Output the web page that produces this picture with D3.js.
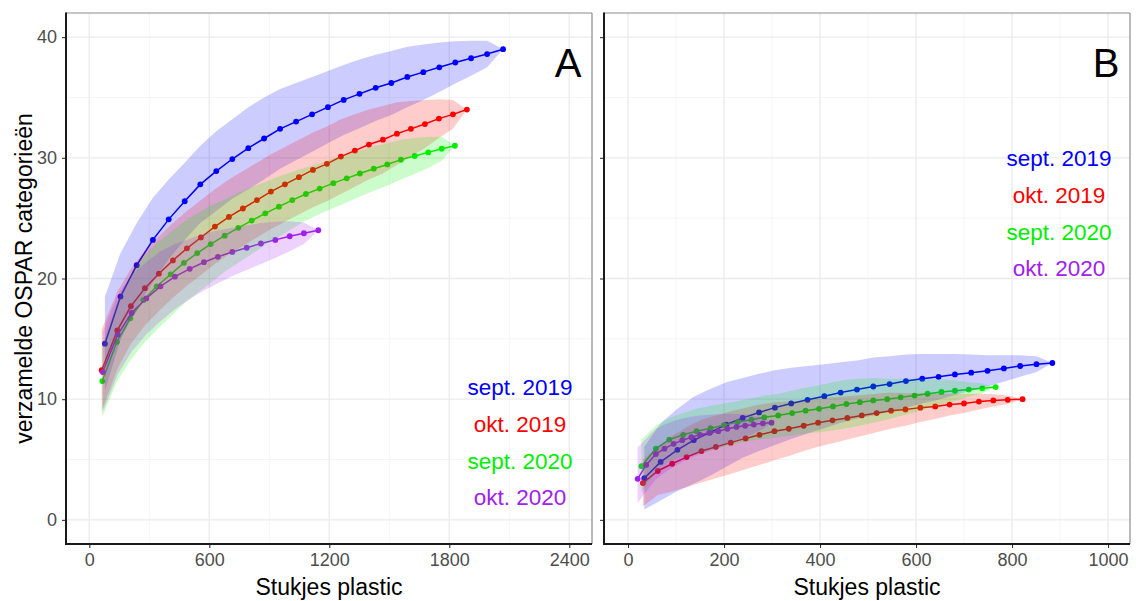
<!DOCTYPE html>
<html>
<head>
<meta charset="utf-8">
<script src="https://cdn.jsdelivr.net/npm/d3@7"></script>
<style>
  html, body { margin: 0; padding: 0; background: #ffffff; }
  svg { display: block; }
  text { font-family: "Liberation Sans", Arial, sans-serif; }
</style>
</head>
<body>
<svg id="chart" width="1136" height="601"></svg>
<script>
// ---------------- DATA ----------------
// Each row: [stukjes plastic, estimated categories, lower CI, upper CI]
const seriesNames = ["sept. 2019", "okt. 2019", "sept. 2020", "okt. 2020"];
const seriesColors = ["#0000FF", "#FF0000", "#00EE00", "#A020F0"];

const A_sept2019 = [
  [78,14.6,10.7,18.5],[156,18.5,14.9,22.1],[237,21.1,17.6,24.6],[318,23.2,19.7,26.7],[397,24.9,21.6,28.2],
  [477,26.4,23.2,29.6],[555,27.8,24.6,31.0],[635,28.9,25.6,32.2],[715,29.9,26.6,33.2],[795,30.8,27.4,34.2],
  [874,31.6,28.2,35.0],[954,32.4,29.1,35.7],[1034,33.0,29.8,36.2],[1114,33.6,30.5,36.7],[1193,34.2,31.2,37.2],
  [1272,34.8,31.9,37.7],[1351,35.3,32.45,38.15],[1432,35.8,33.05,38.55],[1510,36.2,33.55,38.85],[1590,36.7,34.2,39.2],
  [1670,37.1,34.8,39.4],[1750,37.5,35.45,39.55],[1830,37.9,36.15,39.65],[1909,38.25,36.8,39.7],[1989,38.6,37.5,39.7],
  [2069,39.0,39.0,39.0]
];
const A_okt2019 = [
  [62,12.4,9.0,15.8],[140,15.7,12.5,18.9],[208,17.7,14.6,20.8],[278,19.2,16.1,22.3],[348,20.4,17.3,23.5],
  [418,21.5,18.4,24.6],[488,22.5,19.4,25.6],[558,23.4,20.3,26.5],[628,24.3,21.2,27.4],[698,25.1,22.0,28.2],
  [768,25.8,22.7,28.9],[838,26.5,23.4,29.6],[908,27.2,24.1,30.3],[978,27.8,24.7,30.9],[1048,28.4,25.3,31.5],
  [1118,29.0,25.9,32.1],[1188,29.5,26.4,32.6],[1258,30.1,27.0,33.2],[1328,30.6,27.6,33.6],[1398,31.1,28.2,34.0],
  [1468,31.5,28.7,34.3],[1538,32.0,29.4,34.6],[1608,32.4,30.1,34.7],[1678,32.8,30.8,34.8],[1748,33.25,31.65,34.85],
  [1818,33.6,32.4,34.8],[1888,34.0,34.0,34.0]
];
const A_sept2020 = [
  [65,11.5,8.5,14.5],[138,14.75,11.45,18.05],[205,16.7,13.2,20.2],[270,18.2,14.6,21.8],[337,19.35,15.75,22.95],
  [407,20.35,16.85,23.85],[473,21.3,17.9,24.7],[540,22.1,18.8,25.4],[607,22.85,19.65,26.05],[677,23.55,20.55,26.55],
  [745,24.2,21.3,27.1],[812,24.8,22.0,27.6],[880,25.4,22.8,28.0],[948,25.95,23.45,28.45],[1015,26.5,24.15,28.85],
  [1083,27.0,24.8,29.2],[1152,27.45,25.35,29.55],[1220,27.9,25.85,29.95],[1287,28.3,26.3,30.3],[1353,28.7,26.8,30.6],
  [1422,29.1,27.25,30.95],[1490,29.45,27.7,31.2],[1558,29.85,28.2,31.5],[1627,30.15,28.65,31.65],[1695,30.45,29.15,31.75],
  [1762,30.75,29.75,31.75],[1828,31.0,31.0,31.0]
];
const A_okt2020 = [
  [67,12.25,8.95,15.55],[142,15.35,12.05,18.65],[212,17.15,13.95,20.35],[285,18.35,15.35,21.35],[356,19.35,16.45,22.25],
  [428,20.15,17.45,22.85],[502,20.8,18.3,23.3],[573,21.35,19.0,23.7],[643,21.8,19.6,24.0],[715,22.2,20.2,24.2],
  [787,22.55,20.7,24.4],[858,22.9,21.2,24.6],[930,23.2,21.7,24.7],[1002,23.5,22.25,24.75],[1073,23.75,22.85,24.65],
  [1145,24.0,24.0,24.0]
];

const B_sept2019 = [
  [34,3.45,0.85,6.05],[68,4.8,1.6,8.0],[103,5.8,2.4,9.2],[137,6.6,3.0,10.2],[171,7.25,3.65,10.85],
  [205,7.9,4.4,11.4],[239,8.45,5.15,11.75],[273,8.9,5.7,12.1],[306,9.3,6.2,12.4],[340,9.65,6.7,12.6],
  [374,9.95,7.15,12.75],[409,10.25,7.6,12.9],[443,10.55,8.05,13.05],[477,10.8,8.4,13.2],[511,11.05,8.65,13.45],
  [545,11.25,8.95,13.55],[579,11.5,9.3,13.7],[613,11.7,9.65,13.75],[647,11.85,9.95,13.75],[681,12.05,10.35,13.75],
  [715,12.2,10.7,13.7],[749,12.35,11.05,13.65],[783,12.55,11.45,13.65],[817,12.75,11.85,13.65],[851,12.9,12.25,13.55],
  [884,13.0,13.0,13.0]
];
const B_okt2019 = [
  [31,3.05,1.1,5.0],[62,4.05,2.05,6.05],[92,4.65,2.35,6.95],[122,5.2,2.7,7.7],[153,5.7,3.1,8.3],
  [183,6.05,3.45,8.65],[214,6.4,3.8,9.0],[245,6.75,4.2,9.3],[274,7.05,4.55,9.55],[305,7.35,4.95,9.75],
  [335,7.55,5.3,9.8],[366,7.8,5.7,9.9],[396,8.05,6.05,10.05],[426,8.25,6.35,10.15],[457,8.45,6.65,10.25],
  [487,8.65,6.95,10.35],[518,8.85,7.25,10.45],[548,9.05,7.55,10.55],[578,9.15,7.8,10.5],[609,9.3,8.1,10.5],
  [640,9.4,8.35,10.45],[670,9.55,8.65,10.45],[700,9.65,8.85,10.45],[731,9.8,9.15,10.45],[761,9.9,9.4,10.4],
  [791,9.95,9.6,10.3],[822,10.0,10.0,10.0]
];
const B_sept2020 = [
  [28,4.45,2.25,6.65],[58,5.9,4.0,7.8],[86,6.65,4.85,8.45],[115,7.05,5.25,8.85],[143,7.35,5.5,9.2],
  [172,7.6,5.75,9.45],[200,7.85,6.05,9.65],[229,8.1,6.35,9.85],[257,8.3,6.55,10.05],[284,8.5,6.7,10.3],
  [313,8.65,6.85,10.45],[342,8.85,7.0,10.7],[370,9.05,7.15,10.95],[398,9.2,7.25,11.15],[427,9.4,7.4,11.4],
  [455,9.6,7.6,11.6],[483,9.75,7.8,11.7],[511,9.9,8.05,11.75],[540,10.0,8.3,11.7],[568,10.15,8.6,11.7],
  [597,10.3,8.9,11.7],[624,10.45,9.25,11.65],[653,10.6,9.55,11.65],[681,10.7,9.85,11.55],[710,10.8,10.2,11.4],
  [738,10.9,10.5,11.3],[766,11.0,11.0,11.0]
];
const B_okt2020 = [
  [20,3.4,1.4,6.0],[38,4.55,2.35,6.75],[58,5.45,3.35,7.55],[76,5.9,3.9,7.9],[95,6.3,4.4,8.2],
  [113,6.6,4.8,8.4],[132,6.85,5.15,8.55],[150,7.05,5.45,8.65],[169,7.2,5.7,8.7],[188,7.35,5.95,8.75],
  [207,7.55,6.3,8.8],[226,7.7,6.6,8.8],[244,7.8,6.85,8.75],[262,7.9,7.15,8.65],[281,8.0,7.5,8.5],
  [299,8.05,8.05,8.05]
];

const xTicksA = [0, 600, 1200, 1800, 2400];
const xMinorA = [300, 900, 1500, 2100];
const xTicksB = [0, 200, 400, 600, 800, 1000];
const xMinorB = [100, 300, 500, 700, 900];
const yTicks = [0, 10, 20, 30, 40];
const yMinor = [5, 15, 25, 35];

const xTitle = "Stukjes plastic";
const yTitle = "verzamelde OSPAR categorieën";

// ---------------- DRAW ----------------
const svg = d3.select("#chart");
const plotTop = 13, plotBottom = 544;
const y = d3.scaleLinear().domain([-2, 42]).range([plotBottom, plotTop]);

const panels = [
  { left: 66, right: 592, domain: [-116.5, 2513.5], ticks: xTicksA, minor: xMinorA,
    data: [A_sept2019, A_okt2019, A_sept2020, A_okt2020], label: "A", labelX: 568,
    legendX: 520, legendY: [387, 424, 461, 497], yLabels: true },
  { left: 604, right: 1130, domain: [-50, 1045.8], ticks: xTicksB, minor: xMinorB,
    data: [B_sept2019, B_okt2019, B_sept2020, B_okt2020], label: "B", labelX: 1106,
    legendX: 1059, legendY: [158, 195, 232, 268], yLabels: false }
];

panels.forEach((p, pi) => {
  const x = d3.scaleLinear().domain(p.domain).range([p.left, p.right]);
  const g = svg.append("g");
  const clipId = "clip" + pi;
  svg.append("clipPath").attr("id", clipId).append("rect")
    .attr("x", p.left).attr("y", plotTop).attr("width", p.right - p.left).attr("height", plotBottom - plotTop);

  // grid
  const grid = g.append("g");
  grid.selectAll(".vminor").data(p.minor).join("line")
    .attr("x1", d => x(d)).attr("x2", d => x(d)).attr("y1", plotTop).attr("y2", plotBottom)
    .attr("stroke", "#f2f2f2").attr("stroke-width", 0.8);
  grid.selectAll(".hminor").data(yMinor).join("line")
    .attr("y1", d => y(d)).attr("y2", d => y(d)).attr("x1", p.left).attr("x2", p.right)
    .attr("stroke", "#f2f2f2").attr("stroke-width", 0.8);
  grid.selectAll(".vmajor").data(p.ticks).join("line")
    .attr("x1", d => x(d)).attr("x2", d => x(d)).attr("y1", plotTop).attr("y2", plotBottom)
    .attr("stroke", "#ebebeb").attr("stroke-width", 1.3);
  grid.selectAll(".hmajor").data(yTicks).join("line")
    .attr("y1", d => y(d)).attr("y2", d => y(d)).attr("x1", p.left).attr("x2", p.right)
    .attr("stroke", "#ebebeb").attr("stroke-width", 1.3);

  const plot = g.append("g").attr("clip-path", `url(#${clipId})`);
  const line = d3.line().x(d => x(d[0])).y(d => y(d[1]));
  const area = d3.area().x(d => x(d[0])).y0(d => y(d[2])).y1(d => y(d[3]));

  // lines and points first
  p.data.forEach((s, i) => {
    plot.append("path").datum(s).attr("d", line)
      .attr("fill", "none").attr("stroke", seriesColors[i]).attr("stroke-width", 1.5);
    plot.append("g").selectAll("circle").data(s).join("circle")
      .attr("cx", d => x(d[0])).attr("cy", d => y(d[1])).attr("r", 2.9)
      .attr("fill", seriesColors[i]);
  });
  // ribbons on top
  p.data.forEach((s, i) => {
    plot.append("path").datum(s).attr("d", area)
      .attr("fill", seriesColors[i]).attr("fill-opacity", 0.2).attr("stroke", "none");
  });

  // border (top/right grey)
  g.append("line").attr("x1", p.left).attr("x2", p.right).attr("y1", plotTop).attr("y2", plotTop)
    .attr("stroke", "#8c8c8c").attr("stroke-width", 1.2);
  g.append("line").attr("x1", p.right).attr("x2", p.right).attr("y1", plotTop).attr("y2", plotBottom)
    .attr("stroke", "#8c8c8c").attr("stroke-width", 1.2);

  // x axis
  const xAxis = d3.axisBottom(x).tickValues(p.ticks).tickSize(4).tickPadding(5).tickFormat(d3.format("d"));
  const gx = g.append("g").attr("transform", `translate(0,${plotBottom})`).call(xAxis);
  gx.select(".domain").remove();
  gx.selectAll(".tick line").attr("stroke", "#333333").attr("stroke-width", 1.1);
  gx.selectAll(".tick text").attr("fill", "#4d4d4d").attr("font-size", 18)
    .attr("font-family", "Liberation Sans, Arial, sans-serif");

  // y axis
  const yAxis = d3.axisLeft(y).tickValues(yTicks).tickSize(4).tickPadding(5)
    .tickFormat(p.yLabels ? d3.format("d") : () => "");
  const gy = g.append("g").attr("transform", `translate(${p.left},0)`).call(yAxis);
  gy.select(".domain").remove();
  gy.selectAll(".tick line").attr("stroke", "#333333").attr("stroke-width", 1.1);
  gy.selectAll(".tick text").attr("fill", "#4d4d4d").attr("font-size", 18)
    .attr("font-family", "Liberation Sans, Arial, sans-serif");

  // axis lines (black, left and bottom)
  g.append("line").attr("x1", p.left).attr("x2", p.left).attr("y1", plotTop - 0.6).attr("y2", plotBottom + 1)
    .attr("stroke", "#1a1a1a").attr("stroke-width", 2);
  g.append("line").attr("x1", p.left - 1).attr("x2", p.right).attr("y1", plotBottom).attr("y2", plotBottom)
    .attr("stroke", "#1a1a1a").attr("stroke-width", 2);

  // panel label
  g.append("text").attr("x", p.labelX).attr("y", 77).attr("text-anchor", "middle")
    .attr("font-size", 40).attr("fill", "#000").text(p.label);

  // legend text
  seriesNames.forEach((n, i) => {
    g.append("text").attr("x", p.legendX).attr("y", p.legendY[i]).attr("dy", "0.35em")
      .attr("text-anchor", "middle").attr("font-size", 22.5).attr("fill", seriesColors[i]).text(n);
  });

  // x title
  g.append("text").attr("x", (p.left + p.right) / 2).attr("y", 595).attr("text-anchor", "middle")
    .attr("font-size", 23).attr("fill", "#000").text(xTitle);
});

// y title
svg.append("text").attr("transform", `translate(32,${(plotTop + plotBottom) / 2}) rotate(-90)`)
  .attr("text-anchor", "middle").attr("font-size", 23).attr("fill", "#000").text(yTitle);
</script>
</body>
</html>
